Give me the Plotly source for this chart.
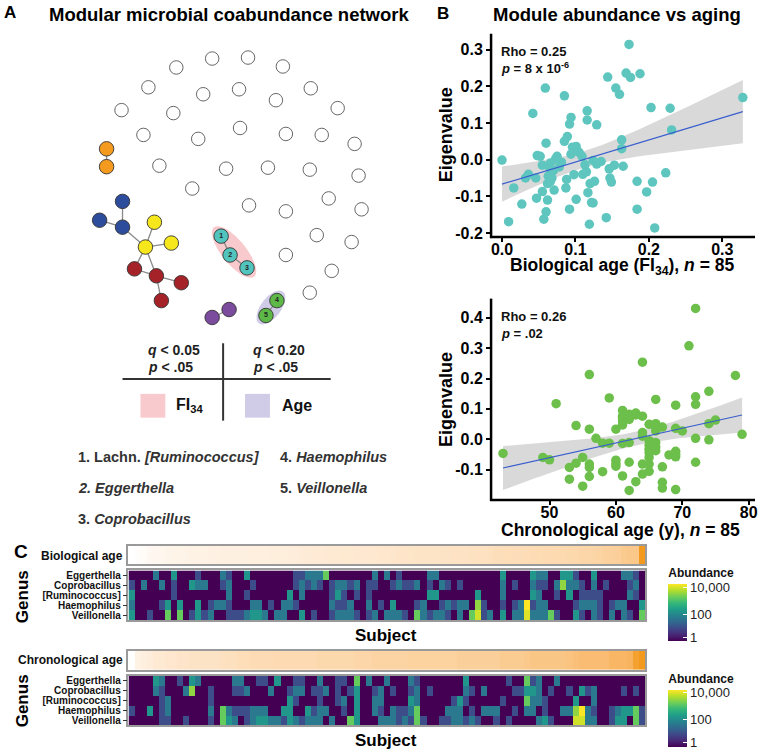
import numpy as np
import plotly.graph_objects as go

W, H = 763, 756
FONT = "Liberation Sans, Arial, sans-serif"

# ---------------- Panel A: network layout (pixel coordinates) ----------------
open_x = [177, 213, 249, 284, 149, 204, 240, 277, 312, 122, 174, 339, 144, 199, 241, 287, 323,
          356, 160, 227, 269, 311, 360, 193, 250, 287, 330, 363, 318, 353, 287, 333, 311]
open_y = [67, 58, 57, 66, 87, 94, 89, 100, 88, 110, 113, 108, 135, 139, 128, 134, 135,
          144, 166, 169, 168, 170, 176, 189, 206, 212, 199, 210, 236, 243, 256, 272, 294]

mod_x = [107, 107, 123, 100, 123, 155, 172, 146, 135, 157, 182, 162, 222, 231, 248, 213, 230, 278, 267]
mod_y = [149, 167, 202, 221, 228, 223, 244, 248, 270, 277, 284, 302, 237, 256, 269, 319, 311, 302, 317]
mod_color = ["#F39A1F", "#F39A1F", "#2E4C9C", "#2E4C9C", "#2E4C9C", "#F6E71C", "#F6E71C", "#F6E71C",
             "#A52328", "#A52328", "#A52328", "#A52328", "#52C4BE", "#52C4BE", "#52C4BE",
             "#7B4B9E", "#7B4B9E", "#5DB847", "#5DB847"]
mod_label = ["", "", "", "", "", "", "", "", "", "", "", "", "1", "2", "3", "", "", "4", "5"]
edges = [(0, 1), (2, 4), (3, 4), (4, 7), (7, 5), (7, 6), (7, 8), (7, 9), (8, 9), (9, 10), (9, 11),
         (12, 13), (13, 14), (15, 16), (17, 18)]

# ---------------- Panel B data ----------------
fi34 = [0.000, 0.009, 0.016, 0.027, 0.032, 0.036, 0.042, 0.046, 0.047, 0.048, 0.052, 0.055, 0.055,
        0.057, 0.059, 0.060, 0.060, 0.062, 0.062, 0.063, 0.065, 0.066, 0.066, 0.071, 0.073, 0.075,
        0.081, 0.085, 0.085, 0.087, 0.089, 0.088, 0.092, 0.092, 0.094, 0.094, 0.096, 0.098, 0.101,
        0.101, 0.109, 0.113, 0.116, 0.116, 0.115, 0.117, 0.119, 0.120, 0.122, 0.124, 0.124, 0.126,
        0.129, 0.129, 0.142, 0.144, 0.146, 0.147, 0.149, 0.153, 0.155, 0.160, 0.163, 0.163, 0.165,
        0.169, 0.173, 0.175, 0.188, 0.184, 0.184, 0.197, 0.203, 0.205, 0.208, 0.223, 0.229, 0.231,
        0.328, 0.070, 0.078, 0.105, 0.110, 0.135, 0.068]
eig_fi = [-0.001, -0.169, -0.077, -0.121, -0.050, -0.040, 0.126, -0.050, -0.105, 0.011, 0.009, -0.015,
          -0.087, -0.162, 0.195, 0.045, -0.142, -0.110, -0.065, -0.045, -0.023, -0.009, -0.059, -0.083,
          0.002, 0.009, -0.007, 0.174, 0.050, -0.077, 0.063, -0.054, -0.135, 0.097, 0.115, 0.015, 0.034,
          -0.041, -0.108, 0.036, 0.009, -0.014, 0.133, 0.108, -0.033, -0.090, -0.176, -0.065, -0.117,
          -0.002, -0.118, -0.059, -0.012, 0.095, -0.158, 0.225, -0.025, -0.050, -0.061, -0.015, 0.195,
          0.178, 0.054, 0.030, -0.018, 0.236, 0.314, 0.224, 0.234, -0.059, -0.135, -0.088, 0.142, -0.061,
          -0.186, -0.036, 0.140, 0.081, 0.169, -0.030, -0.020, 0.020, -0.040, -0.005, -0.050]

age = [43, 49, 50, 51, 53, 53, 54, 54, 55, 55, 56, 56, 56, 56, 56, 57, 58, 58, 59, 59, 60, 60, 60,
       61, 61, 61, 61, 61, 61, 62, 62, 62, 62, 62, 63, 63, 64, 64, 64, 64, 64, 65, 65, 65, 65, 65, 65,
       66, 66, 66, 66, 66, 67, 67, 67, 67, 68, 69, 69, 69, 69, 69, 70, 71, 72, 72, 72, 72, 72, 74, 74,
       74, 75, 78, 79, 61, 62, 64, 65, 66, 66, 65, 60, 63, 69]
eig_age = [-0.047, -0.060, -0.068, 0.117, -0.093, -0.132, 0.045, -0.079, -0.060, -0.155, 0.213, 0.033,
           -0.082, -0.093, -0.123, 0.003, -0.013, -0.107, 0.136, -0.013, 0.033, -0.069, -0.089, 0.095,
           0.076, 0.060, 0.047, -0.014, -0.121, 0.065, 0.082, -0.011, -0.076, -0.169, 0.086, -0.140,
           0.254, 0.076, 0.022, -0.082, -0.115, 0.049, -0.005, -0.033, -0.060, -0.082, -0.106, 0.131,
           0.051, 0.027, -0.011, -0.038, 0.040, -0.091, -0.142, -0.161, -0.052, 0.112, 0.036, -0.040,
           -0.058, -0.166, 0.027, 0.308, 0.431, 0.140, 0.115, 0.003, -0.076, 0.158, 0.051, -0.002, 0.063,
           0.210, 0.016, 0.070, 0.072, 0.010, -0.020, -0.025, 0.040, -0.045, -0.080, 0.080, -0.050]

fi_ticks = [0, 0.1, 0.2, 0.3]
fi_eig_ticks = [-0.2, -0.1, 0, 0.1, 0.2, 0.3]
age_ticks = [50, 60, 70, 80]
age_eig_ticks = [-0.1, 0, 0.1, 0.2, 0.3, 0.4]

# ---------------- Panel C data (log10(1 + abundance)) ----------------
genera = ["Eggerthella", "Coprobacillus", "[Ruminococcus]", "Haemophilus", "Veillonella"]

bio_egg = [0, 0, 0, 0, 1.7, 0, 0, 2.2, 0, 0, 0, 1, 0, 0, 0, 1.7, 1,
           0, 0, 2.2, 0, 0, 0, 0, 0, 0, 0, 1, 1, 1.7, 1.7, 1.7, 3.2, 0,
           0, 0, 0, 0, 0, 0, 1.7, 0, 1.7, 0, 1, 0, 0, 0, 0, 1.7, 1.7,
           0, 0, 0, 0, 0, 0, 0, 0, 0, 0, 2.2, 0, 0, 0, 0, 2.2, 1.7,
           1.7, 0, 0, 2.2, 2.2, 1, 0, 0, 2.2, 0, 0, 0, 0, 1.7, 1.7, 1, 0]
bio_cop = [1, 0, 1.7, 0, 0, 1.7, 0, 1, 0, 0, 2.2, 1.7, 1.7, 0, 0, 1, 1.7,
           0, 0, 0, 1, 0, 0, 0, 0, 0, 0, 1, 1.7, 1, 1.7, 1, 0, 1,
           1.7, 1.7, 1, 1.7, 0, 1, 1, 0, 0, 1, 1.7, 1, 1, 1.7, 0, 1, 0,
           1.7, 1, 0, 1, 0, 0, 0, 0, 0, 0, 1.7, 0, 1, 0, 0, 1.7, 1,
           1, 0, 1.7, 3.5, 1.7, 1.7, 1, 0, 1.7, 0, 1, 0, 0, 0, 1, 1.7, 0]
bio_rum = [2.2, 0, 0, 0, 0, 0, 0, 1, 0, 0, 0, 0, 0, 0, 0, 0, 1.7,
           0, 0, 1, 0, 0, 0, 0, 0, 0, 2.2, 0, 1.7, 0, 0, 0, 0, 1,
           2.2, 1, 0, 1, 0, 1, 0, 0, 0, 0, 0, 0, 0, 0, 0, 2.2, 2.2,
           0, 0, 0, 0, 0, 0, 2.2, 0, 0, 0, 1.7, 0, 0, 0, 0, 2.2, 1.7,
           0, 0, 1, 0, 2.2, 0, 1, 1, 1, 1, 0, 0, 0, 0, 1.7, 1, 0]
bio_hae = [1.7, 0, 0, 0, 0, 1, 2.2, 0, 2.2, 0, 0, 2.2, 0, 1, 1.7, 1.7, 1,
           0, 0, 0, 1.7, 1.7, 0, 1, 0, 1.7, 1.7, 1, 0, 0, 0, 0, 0, 1.7,
           1, 1, 1.7, 0, 0, 1.7, 0, 1, 0, 2.2, 0, 0, 0, 1, 1.7, 0, 0,
           1, 1.7, 1, 1.7, 1.7, 0, 3.5, 1, 0, 0, 1, 0, 1, 1.7, 4.2, 1, 1.7,
           1.7, 0, 0, 0, 0, 1, 1.7, 1.7, 1.7, 1, 0, 1, 1.7, 1.7, 0, 0, 2.2]
bio_vei = [2.2, 0, 0, 1, 0, 0, 3.2, 0, 3.2, 0, 1, 2.2, 1, 1.7, 0, 0, 1,
           1, 1, 1.7, 2.2, 2.2, 1.7, 0, 1.7, 1.7, 0, 0, 2.2, 0, 1, 0, 0, 1,
           1.7, 1.7, 1.7, 1, 0, 1, 1.7, 0, 1.7, 1.7, 1.7, 1, 0, 3.2, 1.7, 1, 1.7,
           1.7, 1, 0, 1.7, 0, 3.2, 3.9, 1, 1.7, 0, 2.2, 0, 1.7, 1.7, 4, 1.7, 1.7,
           1.7, 3.2, 1, 0, 0, 2.2, 1, 0, 1.7, 1, 0, 1.7, 0, 1.7, 1, 0, 3.2]

chr_egg = [0, 0, 0, 0, 2.2, 1.7, 0, 0, 1, 0, 2.2, 1.7, 0, 0, 0, 0, 0,
           1.7, 1.7, 0, 0, 1, 1, 0, 2.2, 0, 0, 1, 1, 0, 0, 1.7, 0, 0,
           1, 1, 0, 3.2, 0, 1.7, 0, 0, 1.7, 0, 0, 0, 1.7, 1, 0, 0, 0,
           0, 0, 0, 0, 2.2, 0, 0, 0, 0, 0, 0, 1, 0, 0, 3.2, 1, 1.7,
           0, 0, 1.7, 0, 0, 0, 0, 0, 0, 0, 0, 0, 0, 0, 0, 0, 0]
chr_cop = [0, 0, 0, 0, 1.7, 1, 0, 0, 0, 1.7, 3.5, 0, 0, 1, 0, 0, 0,
           1, 1, 1.7, 0, 0, 0, 1.7, 0, 0, 1, 1.7, 1.7, 0, 1, 1, 1.7, 0,
           1, 0, 1, 2.2, 0, 0, 1, 1.7, 0, 1, 0, 0, 1, 1.7, 0, 1, 0,
           0, 0, 0, 0, 1.7, 1, 0, 1.7, 0, 0, 0, 0, 1, 1, 2.2, 2.2, 1.7,
           0, 1, 0, 0, 1, 0, 2.2, 1, 1.7, 0, 0, 0, 0, 1, 0, 1, 0]
chr_rum = [0, 0, 0, 0, 0, 1, 1.7, 0, 0, 0, 0, 0, 0, 1, 0, 0, 0,
           0, 0, 0, 0, 0, 0, 0, 0, 0, 2.2, 1, 0, 0, 0, 1, 0, 0,
           1, 1.7, 0, 2.2, 0, 0, 1.7, 1.7, 0, 0, 0, 0, 2.2, 1.7, 0, 0, 0,
           0, 0, 1, 2.2, 1, 0, 0, 0, 0, 0, 1, 0, 0, 0, 3.2, 1.7, 1.7,
           1, 0, 0, 0, 0, 2.2, 0, 0, 1.7, 0, 0, 0, 0, 0, 0, 0, 0]
chr_hae = [1, 0, 0, 2.2, 0, 1, 1.7, 0, 0, 0, 0, 0, 0, 1.7, 0, 3.2, 1.7,
           1, 1, 1, 1.7, 1.7, 1.7, 0, 0, 2.2, 2.2, 0, 0, 2.2, 1, 1.7, 1.7, 0,
           0, 1, 0, 2.2, 0, 0, 1.7, 1, 0, 1.7, 1, 1, 1.7, 3.2, 0, 0, 0,
           0, 1.7, 1.7, 1.7, 0, 1, 0, 1.7, 1.7, 1.7, 0, 0, 1, 0, 1.7, 1.7, 0,
           1, 0, 0, 1.7, 1.7, 3.5, 4.2, 1.7, 1, 0, 0, 1, 1.7, 2.2, 2.2, 3.2, 1]
chr_vei = [0, 0, 0, 0, 0, 1, 1, 0, 0, 1, 0, 0, 0, 1, 0, 3.2, 2.2,
           1.7, 0, 1, 1.7, 2.2, 2.2, 1.7, 1.7, 1, 2.2, 1.7, 1, 1.7, 1.7, 1.7, 0, 1.7,
           0, 0, 3.2, 2.2, 0, 0, 0, 1.7, 1.7, 1.7, 1, 1.7, 1, 3.2, 1, 0, 0,
           1, 1, 1.7, 1.7, 1, 1.7, 1, 0, 0, 1, 0, 1, 0, 0, 0, 0, 1.7,
           2.2, 1, 0, 0, 0, 3.9, 3.9, 1.7, 1.7, 0, 0, 1, 2.2, 2.2, 0, 3.2, 1]

abund_ticks = [1, 100, 10000]
abund_labels = ["1", "100", "10,000"]


def px(x):
    return x / W


def py(y):
    return 1 - y / H


def lm_band(x, y, n_pts=60):
    # linear fit with 95% confidence band, like geom_smooth(method = "lm")
    x = np.asarray(x, float)
    y = np.asarray(y, float)
    slope, intercept = np.polyfit(x, y, 1)
    xs = np.linspace(x.min(), x.max(), n_pts)
    fit = slope * xs + intercept
    resid = y - (slope * x + intercept)
    s = np.sqrt(np.sum(resid ** 2) / (len(x) - 2))
    se = s * np.sqrt(1 / len(x) + (xs - x.mean()) ** 2 / np.sum((x - x.mean()) ** 2))
    return xs, fit, fit - 1.989 * se, fit + 1.989 * se


def fmt(v, nd=1):
    return f"<b>{v:.{nd}f}</b>"


fig = go.Figure()

# ---------------- Panel A ----------------
ex, ey = [], []
for a, b in edges:
    ex += [mod_x[a], mod_x[b], None]
    ey += [mod_y[a], mod_y[b], None]
fig.add_trace(go.Scatter(x=ex, y=ey, mode="lines", line=dict(color="#8a8a8a", width=1.3),
                         xaxis="x", yaxis="y", hoverinfo="skip"))
fig.add_trace(go.Scatter(x=open_x, y=open_y, mode="markers", xaxis="x", yaxis="y",
                         marker=dict(size=13.5, color="white", line=dict(color="#555", width=0.9))))
fig.add_trace(go.Scatter(x=mod_x, y=mod_y, mode="markers", xaxis="x", yaxis="y",
                         marker=dict(size=14.5, color=mod_color, line=dict(color="#333", width=0.9))))
# numbered genus labels on the significant nodes
lab_idx = [i for i, t in enumerate(mod_label) if t]
fig.add_trace(go.Scatter(x=[mod_x[i] for i in lab_idx], y=[mod_y[i] for i in lab_idx],
                         text=[mod_label[i] for i in lab_idx], mode="text", xaxis="x", yaxis="y",
                         textposition="middle center",
                         textfont=dict(size=7, color="#222", family=FONT, weight="bold")))


def ellipse_path(cx, cy, a, b, ang_deg):
    t = np.linspace(0, 2 * np.pi, 60)
    ang = np.radians(ang_deg)
    xs = cx + a * np.cos(t) * np.cos(ang) - b * np.sin(t) * np.sin(ang)
    ys = cy + a * np.cos(t) * np.sin(ang) + b * np.sin(t) * np.cos(ang)
    return "M " + " L ".join(f"{x:.1f},{y:.1f}" for x, y in zip(xs, ys)) + " Z"


shapes = [
    dict(type="path", path=ellipse_path(235, 253, 32, 12, 51), xref="x", yref="y",
         fillcolor="#F9CACD", line=dict(width=0), layer="below"),
    dict(type="path", path=ellipse_path(272, 309, 20, 10, -53), xref="x", yref="y",
         fillcolor="#D0CCE7", line=dict(width=0), layer="below"),
    # legend table
    dict(type="line", x0=px(224), x1=px(224), y0=py(345), y1=py(423), xref="paper", yref="paper",
         line=dict(color="#333", width=2)),
    dict(type="line", x0=px(123), x1=px(332), y0=py(381), y1=py(381), xref="paper", yref="paper",
         line=dict(color="#333", width=2)),
    dict(type="rect", x0=px(141), x1=px(166), y0=py(420), y1=py(396), xref="paper", yref="paper",
         fillcolor="#F9CACD", line=dict(width=0)),
    dict(type="rect", x0=px(246), x1=px(271), y0=py(420), y1=py(396), xref="paper", yref="paper",
         fillcolor="#D0CCE7", line=dict(width=0)),
]
# L-shaped axis frames of the two scatter panels
for top, bottom in [(33, 238), (300, 503)]:
    shapes.append(dict(type="line", x0=px(493), x1=px(493), y0=py(bottom + 1), y1=py(top),
                       xref="paper", yref="paper", line=dict(color="black", width=2.5)))
    shapes.append(dict(type="line", x0=px(492), x1=px(758), y0=py(bottom), y1=py(bottom),
                       xref="paper", yref="paper", line=dict(color="black", width=2.5)))

# ---------------- Panel B ----------------
for xv, yv, col, xa, ya in [(fi34, eig_fi, "#5EC6BE", "x2", "y2"), (age, eig_age, "#6CBF4A", "x3", "y3")]:
    xs, fit, lo, hi = lm_band(xv, yv)
    fig.add_trace(go.Scatter(x=np.concatenate([xs, xs[::-1]]), y=np.concatenate([hi, lo[::-1]]),
                             fill="toself", fillcolor="rgba(170,170,170,0.45)", line=dict(width=0),
                             mode="lines", xaxis=xa, yaxis=ya, hoverinfo="skip"))
    fig.add_trace(go.Scatter(x=xv, y=yv, mode="markers", xaxis=xa, yaxis=ya,
                             marker=dict(size=9.5, color=col)))
    fig.add_trace(go.Scatter(x=xs, y=fit, mode="lines", line=dict(color="#3A5FCD", width=1.2),
                             xaxis=xa, yaxis=ya, hoverinfo="skip"))

# ---------------- Panel C ----------------
bio_order = np.sort(np.asarray(fi34, float))
chr_order = np.sort(np.asarray(age, float))
age_scale = [[0, "#FFFFFF"], [0.25, "#FEEBD6"], [0.6, "#FCD3A2"], [0.9, "#F8B25C"], [1, "#F39A1E"]]
abund_log = np.log10(1 + np.asarray(abund_ticks, float))

for order, xa, ya in [(bio_order, "x4", "y4"), (chr_order, "x6", "y6")]:
    fig.add_trace(go.Heatmap(z=[order], x=list(range(len(order))), y=[0], colorscale=age_scale,
                             showscale=False, xaxis=xa, yaxis=ya, hoverinfo="skip"))

for rows, xa, ya, cb_top in [([bio_egg, bio_cop, bio_rum, bio_hae, bio_vei], "x5", "y5", 569),
                             ([chr_egg, chr_cop, chr_rum, chr_hae, chr_vei], "x7", "y7", 675)]:
    fig.add_trace(go.Heatmap(
        z=rows, x=list(range(len(rows[0]))), y=genera, colorscale="Viridis", zmin=0, zmax=4.2,
        xaxis=xa, yaxis=ya, hoverinfo="skip",
        colorbar=dict(x=px(671), xanchor="left", y=py(cb_top), yanchor="top", xpad=0, ypad=0,
                      len=76, lenmode="pixels", thickness=19, thicknessmode="pixels", outlinewidth=0,
                      tickvals=list(abund_log), ticktext=abund_labels, ticks="inside", ticklen=4,
                      tickcolor="white", tickfont=dict(size=13, color="#222", family=FONT),
                      title=dict(text="<b>Abundance</b>", side="top",
                                 font=dict(size=12, color="#111", family=FONT)))))

# ---------------- axes ----------------
hidden = dict(visible=False, showgrid=False, zeroline=False)
bold16 = dict(size=16, color="black", family=FONT)


def scatter_axis(ticks, text, standoff):
    return dict(showline=False, ticks="outside", ticklen=4, tickwidth=2, tickcolor="black",
                showgrid=False, zeroline=False, tickfont=bold16, tickvals=ticks, ticktext=text,
                ticklabelstandoff=standoff)


heat_x = dict(showline=True, mirror=True, linecolor="#9a9a9a", linewidth=1.5, showticklabels=False,
              ticks="", showgrid=False, zeroline=False, range=[-0.5, 84.5])
heat_y = dict(showline=True, mirror=True, linecolor="#9a9a9a", linewidth=1.5, showgrid=False,
              zeroline=False, autorange="reversed", ticks="outside", ticklen=4, tickcolor="#333",
              tickmode="array", tickvals=genera, ticktext=[f"<b>{g}</b>" for g in genera],
              tickfont=dict(size=10, color="#111", family=FONT))
bar_y = dict(showline=True, mirror=True, linecolor="#9a9a9a", linewidth=1.5, showticklabels=False,
             ticks="", showgrid=False, zeroline=False)

fig.update_layout(
    width=W, height=H, margin=dict(l=0, r=0, t=0, b=0), showlegend=False,
    paper_bgcolor="white", plot_bgcolor="white", font=dict(family=FONT, color="black"),
    shapes=shapes,
    xaxis=dict(domain=[0, px(380)], range=[0, 380], **hidden),
    yaxis=dict(domain=[py(540), py(30)], range=[540, 30], **hidden),
    xaxis2=dict(domain=[px(493), px(758)], range=[-0.0149, 0.3446], anchor="y2",
                **scatter_axis(fi_ticks, [fmt(v) for v in fi_ticks], -6)),
    yaxis2=dict(domain=[py(238), py(33)], range=[-0.211, 0.343], anchor="x2",
                **scatter_axis(fi_eig_ticks, [fmt(v) for v in fi_eig_ticks], 0)),
    xaxis3=dict(domain=[px(493), px(758)], range=[41.2, 80.95], anchor="y3",
                **scatter_axis(age_ticks, [f"<b>{v}</b>" for v in age_ticks], -6)),
    yaxis3=dict(domain=[py(503), py(300)], range=[-0.2005, 0.4635], anchor="x3",
                **scatter_axis(age_eig_ticks, [fmt(v) for v in age_eig_ticks], 0)),
    xaxis4=dict(domain=[px(129), px(648)], anchor="y4", **heat_x),
    yaxis4=dict(domain=[py(568), py(549)], anchor="x4", **bar_y),
    xaxis5=dict(domain=[px(129), px(648)], anchor="y5", **heat_x),
    yaxis5=dict(domain=[py(624), py(574)], anchor="x5", **heat_y),
    xaxis6=dict(domain=[px(129), px(648)], anchor="y6", **heat_x),
    yaxis6=dict(domain=[py(674), py(655)], anchor="x6", **bar_y),
    xaxis7=dict(domain=[px(129), px(648)], anchor="y7", **heat_x),
    yaxis7=dict(domain=[py(730), py(680)], anchor="x7", **heat_y),
)


# ---------------- text ----------------
def ann(text, x, y, size, xanchor="center", color="black", angle=0):
    fig.add_annotation(text=text, x=px(x), y=py(y), xref="paper", yref="paper", showarrow=False,
                       xanchor=xanchor, yanchor="middle", textangle=angle, borderpad=0,
                       font=dict(size=size, color=color, family=FONT))


ann("<b>A</b>", 10, 12, 17)
ann("<b>B</b>", 445, 13, 17)
ann("<b>C</b>", 21, 555, 19)
ann("<b>Modular microbial coabundance network</b>", 230, 14, 18.5)
ann("<b>Module abundance vs aging</b>", 619, 14, 18.5)

ann("<b><i>q</i> < 0.05</b>", 148, 352, 14, "left", "#222")
ann("<b><i>p</i> < .05</b>", 148, 369, 14, "left", "#222")
ann("<b><i>q</i> < 0.20</b>", 253, 352, 14, "left", "#222")
ann("<b><i>p</i> < .05</b>", 253, 369, 14, "left", "#222")
ann("<b>FI<sub>34</sub></b>", 176, 408, 16, "left", "#111")
ann("<b>Age</b>", 282, 408, 16, "left", "#111")

ann("<b>1. Lachn. <i>[Ruminococcus]</i></b>", 77, 460, 14.5, "left", "#333")
ann("<b><i>2. Eggerthella</i></b>", 77, 491, 14.5, "left", "#333")
ann("<b>3. <i>Coprobacillus</i></b>", 77, 522, 14.5, "left", "#333")
ann("<b>4. <i>Haemophilus</i></b>", 280, 460, 14.5, "left", "#333")
ann("<b>5. <i>Veillonella</i></b>", 280, 491, 14.5, "left", "#333")

ann("<b>Eigenvalue</b>", 448, 135, 18, angle=-90)
ann("<b>Eigenvalue</b>", 448, 402, 18, angle=-90)
ann("<b>Biological age (FI<sub>34</sub>), <i>n</i> = 85</b>", 624, 268, 17.5)
ann("<b>Chronological age (y), <i>n</i> = 85</b>", 623, 533, 17.5)
ann("<b>Rho = 0.25</b>", 502, 51, 13, "left", "#111")
ann("<b><i>p</i> = 8 x 10<sup>-6</sup></b>", 502, 68, 13, "left", "#111")
ann("<b>Rho = 0.26</b>", 502, 318, 13, "left", "#111")
ann("<b><i>p</i> = .02</b>", 502, 335, 13, "left", "#111")

ann("<b>Biological age</b>", 124, 559, 12, "right", "#111")
ann("<b>Chronological age</b>", 124, 664, 12, "right", "#111")
ann("<b>Genus</b>", 22, 600, 17, angle=-90)
ann("<b>Genus</b>", 22, 705, 17, angle=-90)
ann("<b>Subject</b>", 388, 640, 17)
ann("<b>Subject</b>", 388, 745, 17)

fig.write_html("out.html", config={"displayModeBar": False},
               post_script="document.body.style.margin='0px';")
